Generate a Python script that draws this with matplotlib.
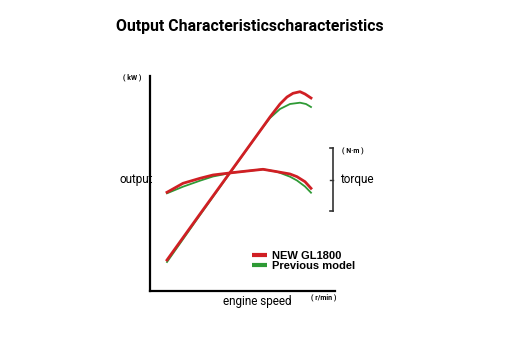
import matplotlib
matplotlib.use("Agg")
import matplotlib.pyplot as plt
from matplotlib.lines import Line2D

# Data (arbitrary units)
speed_out_new = [17, 50, 80, 110, 120, 130, 137, 143, 150, 155, 161]
out_new = [31, 77, 118.5, 160, 174, 187, 194, 197.7, 199.3, 197, 193]
speed_out_prev = [17, 50, 80, 110, 120, 130, 140, 150, 156, 161]
out_prev = [29, 76, 118, 160, 173, 182, 187, 188.3, 187, 184]

speed_tq = [17, 33, 50, 63, 82, 100, 113, 127, 140, 147, 155, 161]
tq_new = [98.7, 107.7, 112.7, 116, 118.3, 120.3, 121.7, 119.3, 117, 114.3, 109.3, 102.7]
tq_prev = [97.7, 104.3, 110.3, 114.5, 118.3, 120.3, 121.7, 119.3, 114.3, 110.5, 104.5, 98.3]

series_labels = ["NEW GL1800", "Previous model"]
title = "Output Characteristicscharacteristics"

RED = "#d01f24"
GREEN = "#2e9a35"
FONT = ["Roboto", "Liberation Sans", "DejaVu Sans"]

fig = plt.figure(figsize=(5.10, 3.63), dpi=100)
ax = fig.add_axes([150/510, 1-291/363, 185/510, 215/363])
ax.set_xlim(0, 185)
ax.set_ylim(0, 215)

ax.plot(speed_out_prev, out_prev, color=GREEN, lw=1.3, zorder=2, solid_joinstyle="round")
ax.plot(speed_tq, tq_prev, color=GREEN, lw=1.3, zorder=2, solid_joinstyle="round")
ax.plot(speed_out_new, out_new, color=RED, lw=2.0, zorder=3, solid_joinstyle="round")
ax.plot(speed_tq, tq_new, color=RED, lw=2.0, zorder=3, solid_joinstyle="round")

for s in ["top", "right"]:
    ax.spines[s].set_visible(False)
for s in ["left", "bottom"]:
    ax.spines[s].set_linewidth(1.6)
    ax.spines[s].set_color("black")
ax.set_xticks([])
ax.set_yticks([])
ax.patch.set_alpha(0)

# torque bracket
ax.plot([183, 183], [80, 143], color="#333333", lw=1.2, clip_on=False)
ax.plot([180, 183], [143, 143], color="#333333", lw=1.2, clip_on=False)
ax.plot([180, 183], [80, 80], color="#333333", lw=1.2, clip_on=False)
ax.plot([180, 183], [111, 111], color="#333333", lw=1.0, clip_on=False)

fig.text(250/510, 1-26/363, title, ha="center", va="center", fontsize=11.4,
         family=FONT, fontweight="bold")
fig.text(120/510, 1-180/363, "output", ha="left", va="center", fontsize=8.5, family=FONT)
fig.text(340/510, 1-180/363, "torque", ha="left", va="center", fontsize=8.5, family=FONT)
fig.text(257/510, 1-301/363, "engine speed", ha="center", va="center", fontsize=8.5, family=FONT)
fig.text(132/510, 1-77/363, "( kW )", ha="center", va="center", fontsize=5,
         family=FONT, fontweight="bold")
fig.text(353/510, 1-151/363, "( N\u00b7m )", ha="center", va="center", fontsize=5,
         family=FONT, fontweight="bold")
fig.text(324/510, 1-297/363, "( r/min )", ha="center", va="center", fontsize=5,
         family=FONT, fontweight="bold")

handles = [Line2D([], [], color=RED, lw=3.0, solid_capstyle="butt"),
           Line2D([], [], color=GREEN, lw=3.0, solid_capstyle="butt")]
fig.legend(handles, series_labels, loc="upper left",
           bbox_to_anchor=(250/510, 1-249/363), frameon=False,
           prop={"family": "Liberation Sans", "weight": "bold", "size": 8},
           handlelength=1.35, handletextpad=0.4, labelspacing=-0.05, borderpad=0.2,
           borderaxespad=0)

fig.savefig("out.png", dpi=100)
